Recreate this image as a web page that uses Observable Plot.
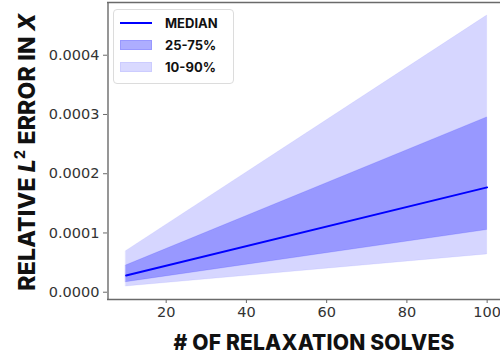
<!DOCTYPE html>
<html>
<head>
<meta charset="utf-8">
<script src="https://cdn.jsdelivr.net/npm/d3@7"></script>
<script src="https://cdn.jsdelivr.net/npm/@observablehq/plot@0.6"></script>
<style>
  html, body { margin: 0; padding: 0; background: #fff; }
  #wrap { position: relative; width: 500px; height: 357px; overflow: hidden; }
  #wrap svg { position: absolute; left: 0; top: 0; }
  .title { position: absolute; font-family: Inter, "DejaVu Sans", sans-serif; font-weight: 800; color: #111; white-space: nowrap; letter-spacing: 0.2px; }
  #ytitle { left: 27px; top: 152px; font-size: 23px; transform: translate(-50%, -50%) rotate(-90deg); }
  #xtitle { left: 314px; top: 342px; font-size: 21px; transform: translate(-50%, -50%); }
  #legend { position: absolute; left: 113px; top: 9px; width: 119px; height: 73px; border: 1px solid #dcdcdc; border-radius: 4px; background: rgba(255,255,255,0.85); font-family: Inter, "DejaVu Sans", sans-serif; font-weight: 700; font-size: 13px; color: #111; }
  .item { position: absolute; left: 0; width: 119px; height: 14px; }
  .key { position: absolute; left: 6px; width: 32px; }
  .lab { position: absolute; left: 51px; top: 50%; transform: translateY(-50%); }
</style>
</head>
<body>
<div id="wrap">
  <div id="legend">
    <div class="item" style="top:6px"><div class="key" style="top:6px;height:0;border-top:2px solid #0000ff"></div><div class="lab">MEDIAN</div></div>
    <div class="item" style="top:28px"><div class="key" style="top:2px;height:10px;background:rgba(0,0,255,0.32);border:1px solid rgba(0,0,255,0.12);box-sizing:border-box"></div><div class="lab">25-75%</div></div>
    <div class="item" style="top:50px"><div class="key" style="top:2px;height:10px;background:rgba(0,0,255,0.15);border:1px solid rgba(0,0,255,0.06);box-sizing:border-box"></div><div class="lab">10-90%</div></div>
  </div>
  <div class="title" id="ytitle">RELATIVE <i>L</i><sup style="font-size:14px;vertical-align:10px;line-height:0">2</sup> ERROR IN <i>X</i></div>
  <div class="title" id="xtitle"># OF RELAXATION SOLVES</div>
</div>
<script>
// Number of relaxation solves and the error percentiles at each
const solves = [10, 100];
const median = [0.0000282, 0.000177];
const p25 = [0.0000169, 0.000105];
const p75 = [0.0000451, 0.000295];
const p10 = [0.0000096, 0.0000637];
const p90 = [0.0000693, 0.000467];

const xTicks = [20, 40, 60, 80, 100];
const yTicks = [0, 0.0001, 0.0002, 0.0003, 0.0004];

// Axis limits with a small margin around the data
const xDomain = [5.5, 104.5];
const yDomain = [-0.0000123, 0.000489];

const rows = solves.map((s, i) => ({
  s, median: median[i], p25: p25[i], p75: p75[i], p10: p10[i], p90: p90[i]
}));

const spine = "#6a6a6a";

const chart = Plot.plot({
  width: 500,
  height: 357,
  marginLeft: 107,
  marginRight: 0,
  marginTop: 2,
  marginBottom: 58,
  style: { fontFamily: "DejaVu Sans, sans-serif", fontSize: "14.5px", color: "#333", background: "transparent" },
  x: { domain: xDomain, range: [107.5, 504.7] },
  y: { domain: yDomain, range: [299, 2] },
  marks: [
    Plot.areaY(rows, { x: "s", y1: "p10", y2: "p90", fill: "#0000ff", fillOpacity: 0.16, stroke: "#0000ff", strokeOpacity: 0.06 }),
    Plot.areaY(rows, { x: "s", y1: "p25", y2: "p75", fill: "#0000ff", fillOpacity: 0.29, stroke: "#0000ff", strokeOpacity: 0.12 }),
    Plot.lineY(rows, { x: "s", y: "median", stroke: "#0000ff", strokeWidth: 1.9 }),
    Plot.ruleX([xDomain[0]], { stroke: spine, strokeWidth: 1.4 }),
    Plot.ruleY([yDomain[0]], { stroke: spine, strokeWidth: 1.4 }),
    Plot.ruleY([yDomain[1]], { stroke: spine, strokeWidth: 1.4 }),
    Plot.axisX({ ticks: xTicks, tickSize: 4, tickPadding: 3, label: null, stroke: spine }),
    Plot.axisY({ ticks: yTicks, tickFormat: d3.format(".4f"), tickSize: 4, tickPadding: 4, label: null, stroke: spine })
  ]
});

document.getElementById("wrap").prepend(chart);
</script>
</body>
</html>
